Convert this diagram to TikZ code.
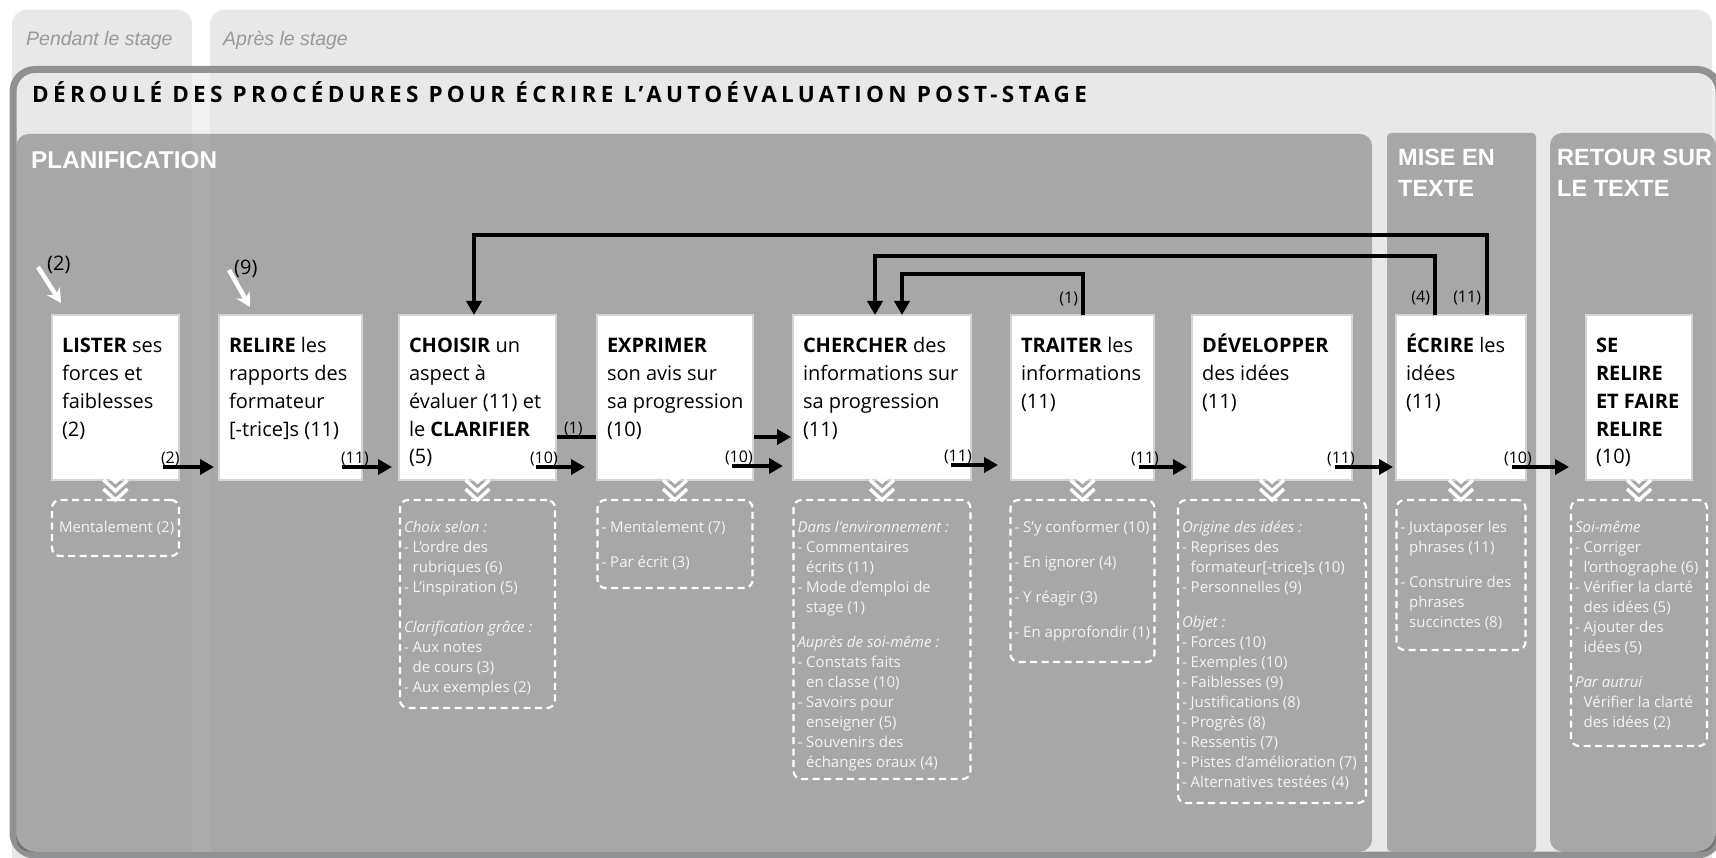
\documentclass[tikz,border=0pt]{standalone}
\usepackage{fontspec}
\setmainfont{Open Sans}
\newfontfamily\headfont{Liberation Sans}
\newfontfamily\titlefont[LetterSpace=19]{Open Sans}
\usepackage{tikz}
\usetikzlibrary{positioning, calc, arrows.meta}

\definecolor{bandgray}{HTML}{E8E8E8}
\definecolor{panelgray}{HTML}{464646}
\definecolor{framegray}{HTML}{909193}
\definecolor{boxline}{HTML}{D4D4D4}
\definecolor{stagegray}{HTML}{9A9A9A}
\definecolor{howtextcol}{HTML}{F4F4F4}

\pgfdeclarelayer{back}
\pgfdeclarelayer{links}
\pgfsetlayers{back,links,main}

% text of a step block (width, lines) and of a detail block (width, height, lines)
\newcommand{\steptext}[2]{\parbox[t][145pt][t]{#1}{\rule{0pt}{28pt}\begin{tabular}[t]{@{}l@{}}#2\end{tabular}}}
\newcommand{\howtext}[3]{\parbox[t][#2][t]{#1}{\rule{0pt}{32pt}\begin{tabular}[t]{@{}l@{}}#3\end{tabular}}}
\newcommand{\chevrons}[1]{%
  \foreach \k in {0,1,2}{%
    \draw[chev] ([shift={(-12,9-9*\k)}]#1.south) -- ++(12,-11) -- ++(12,11);}}

\begin{document}
\begin{tikzpicture}[x=1pt, y=1pt, node distance=40pt]
        % Define block styles
        \tikzstyle{stepbox} = [rectangle, draw=boxline, line width=1.5pt, fill=white, inner xsep=10pt, inner ysep=10pt, outer sep=0pt, font=\fontsize{20}{27.7}\selectfont]
        \tikzstyle{howbox} = [rectangle, draw=white, dash pattern=on 7pt off 4.5pt, line width=2.2pt, rounded corners=8pt, inner xsep=4pt, inner ysep=0pt, outer sep=0pt, text=howtextcol, font=\fontsize{15}{20}\selectfont]
        \tikzstyle{flow} = [line width=4pt, -{Triangle[length=14pt, width=15pt]}]
        \tikzstyle{inflow} = [white, line width=4.5pt, -{Stealth[length=14pt, width=15pt]}]
        \tikzstyle{numlabel} = [font=\fontsize{16}{16}\selectfont, inner sep=0pt]
        \tikzstyle{phase} = [anchor=north west, inner sep=0pt, align=left, text=white, font=\headfont\bfseries\fontsize{23.5}{31}\selectfont]
        \tikzstyle{chev} = [white, line width=3.5pt]

        \useasboundingbox (0,0) rectangle (1716,-858);

        % Background: stage columns, frame and phases
        \begin{pgfonlayer}{back}
        \fill[bandgray, rounded corners=14pt] (12,-10) rectangle (192,-880);
        \fill[bandgray, rounded corners=14pt] (210,-10) rectangle (1712,-880);
        \draw[framegray, line width=7pt, fill=bandgray, fill opacity=0.6, rounded corners=22pt] (13,-69.5) rectangle (1719,-855);
        \fill[panelgray, fill opacity=0.4, rounded corners=12pt] (16.5,-134) rectangle (1372,-851.5);
        \fill[panelgray, fill opacity=0.4, rounded corners=4pt] (1387,-133) rectangle (1536,-851.5);
        \fill[panelgray, fill opacity=0.4, rounded corners=12pt] (1550,-133) rectangle (1715.5,-851.5);
        \end{pgfonlayer}

        % Headings
        \node[anchor=base west, inner sep=0pt, text=stagegray, font=\headfont\itshape\fontsize{19.5}{20}\selectfont] (pendant) at (26,-46) {Pendant le stage};
        \node[anchor=base west, inner sep=0pt, text=stagegray, font=\headfont\itshape\fontsize{19.5}{20}\selectfont] (apres) at (223,-46) {Après le stage};
        \node[anchor=base west, inner sep=0pt, font=\titlefont\bfseries\fontsize{22.5}{22.5}\selectfont] (title) at (32,-103) {DÉROULÉ DES PROCÉDURES POUR ÉCRIRE L’AUTOÉVALUATION POST-STAGE};
        \node[phase, font=\headfont\bfseries\fontsize{24.3}{31}\selectfont] (planif) at (31,-151.5) {PLANIFICATION};
        \node[phase] (misetexte) at (1398,-149) {MISE EN\\TEXTE};
        \node[phase] (retour) at (1557,-149) {RETOUR SUR\\LE TEXTE};

        % Place main nodes
        \node[stepbox, anchor=north west] (lister) at (52,-315) {\steptext{107pt}{\textbf{LISTER} ses\\forces et\\faiblesses\\(2)}};
        \node[stepbox, right=40pt of lister] (relire) {\steptext{123pt}{\textbf{RELIRE} les\\rapports des\\formateur\\{[}-trice{]}s (11)}};
        \node[stepbox, right=37pt of relire] (choisir) {\steptext{137pt}{\textbf{CHOISIR} un\\aspect à\\évaluer (11) et\\le \textbf{CLARIFIER}\\(5)}};
        \node[stepbox, right=41pt of choisir] (exprimer) {\steptext{136pt}{\textbf{EXPRIMER}\\son avis sur\\sa progression\\(10)}};
        \node[stepbox, right=40pt of exprimer] (chercher) {\steptext{158pt}{\textbf{CHERCHER} des\\informations sur\\sa progression\\(11)}};
        \node[stepbox, right=40pt of chercher] (traiter) {\steptext{123pt}{\textbf{TRAITER} les\\informations\\(11)}};
        \node[stepbox, right=38pt of traiter] (developper) {\steptext{140pt}{\textbf{DÉVELOPPER}\\des idées\\(11)}};
        \node[stepbox, right=44pt of developper] (ecrire) {\steptext{110pt}{\textbf{ÉCRIRE} les\\idées\\(11)}};
        \node[stepbox, right=60pt of ecrire] (serelire) {\steptext{86pt}{\textbf{SE}\\\textbf{RELIRE}\\\textbf{ET FAIRE}\\\textbf{RELIRE}\\(10)}};

        % Place detail blocks below main nodes
        \node[howbox, below=20pt of lister] (dlister) {\howtext{119pt}{56pt}{\hspace*{3pt}Mentalement (2)}};
        \node[howbox, below=20pt of choisir] (dchoisir) {\howtext{147pt}{208pt}{\textit{Choix selon :}\\- L’ordre des\\\phantom{- }rubriques (6)\\- L’inspiration (5)\\[20pt]\textit{Clarification grâce :}\\- Aux notes\\\phantom{- }de cours (3)\\- Aux exemples (2)}};
        \node[howbox, below=20pt of exprimer] (dexprimer) {\howtext{147pt}{88pt}{- Mentalement (7)\\[15pt]- Par écrit (3)}};
        \node[howbox, below=20pt of chercher] (dchercher) {\howtext{169pt}{279pt}{\textit{Dans l’environnement :}\\- Commentaires\\\phantom{- }écrits (11)\\- Mode d’emploi de\\\phantom{- }stage (1)\\[15pt]\textit{Auprès de soi-même :}\\- Constats faits\\\phantom{- }en classe (10)\\- Savoirs pour\\\phantom{- }enseigner (5)\\- Souvenirs des\\\phantom{- }échanges oraux (4)}};
        \node[howbox, below=20pt of traiter] (dtraiter) {\howtext{136pt}{162pt}{- S’y conformer (10)\\[15pt]- En ignorer (4)\\[15pt]- Y réagir (3)\\[15pt]- En approfondir (1)}};
        \node[howbox, below=20pt of developper] (ddeveloper) {\howtext{180pt}{303pt}{\textit{Origine des idées :}\\- Reprises des\\\phantom{- }formateur[-trice]s (10)\\- Personnelles (9)\\[15pt]\textit{Objet :}\\- Forces (10)\\- Exemples (10)\\- Faiblesses (9)\\- Justifications (8)\\- Progrès (8)\\- Ressentis (7)\\- Pistes d’amélioration (7)\\- Alternatives testées (4)}};
        \node[howbox, below=20pt of ecrire] (decrire) {\howtext{121pt}{150pt}{- Juxtaposer les\\\phantom{- }phrases (11)\\[15pt]- Construire des\\\phantom{- }phrases\\\phantom{- }succinctes (8)}};
        \node[howbox, below=20pt of serelire] (dserelire) {\howtext{128pt}{246pt}{\textit{Soi-même}\\- Corriger\\\phantom{- }l’orthographe (6)\\- Vérifier la clarté\\\phantom{- }des idées (5)\\- Ajouter des\\\phantom{- }idées (5)\\[15pt]\textit{Par autrui}\\\phantom{- }Vérifier la clarté\\\phantom{- }des idées (2)}};

        % Chevrons from blocks to details
        \foreach \n in {lister, choisir, exprimer, chercher, traiter, developper, ecrire, serelire} {\chevrons{\n}}

        % Draw connections as arrows
        \draw[flow] ([shift={(-16,13)}]lister.south east) -- node[numlabel, at start, anchor=base west, xshift=-4pt, yshift=4pt] {(2)} ([shift={(-5,13)}]relire.south west);
        \draw[flow] ([shift={(-20,13)}]relire.south east) -- node[numlabel, at start, anchor=base west, xshift=-3pt, yshift=4pt] {(11)} ([shift={(-7,13)}]choisir.south west);
        \draw[flow] ([shift={(-20,13)}]choisir.south east) -- node[numlabel, at start, anchor=base west, xshift=-8pt, yshift=4pt] {(10)} ([shift={(-12,13)}]exprimer.south west);
        \draw[flow] ([shift={(-21,14)}]exprimer.south east) -- node[numlabel, at start, anchor=base west, xshift=-9pt, yshift=4pt] {(10)} ([shift={(-10,14)}]chercher.south west);
        \draw[flow] ([shift={(-20,15)}]chercher.south east) -- node[numlabel, at start, anchor=base west, xshift=-9pt, yshift=4pt] {(11)} ([shift={(-13,15)}]traiter.south west);
        \draw[flow] ([shift={(-15,13)}]traiter.south east) -- node[numlabel, at start, anchor=base west, xshift=-10pt, yshift=4pt] {(11)} ([shift={(-5,13)}]developper.south west);
        \draw[flow] ([shift={(-17,13)}]developper.south east) -- node[numlabel, at start, anchor=base west, xshift=-10pt, yshift=4pt] {(11)} ([shift={(-3,13)}]ecrire.south west);
        \draw[flow] ([shift={(-14,13)}]ecrire.south east) -- node[numlabel, at start, anchor=base west, xshift=-10pt, yshift=4pt] {(10)} ([shift={(-17,13)}]serelire.south west);

        % Connection passing behind EXPRIMER
        \begin{pgfonlayer}{links}
        \draw[flow] ([yshift=43pt]choisir.south east) -- node[numlabel, at start, anchor=base west, xshift=6pt, yshift=4pt] {(1)} ([shift={(-2,43)}]chercher.south west);
        \end{pgfonlayer}

        % Draw feedback loops
        \draw[flow] ([xshift=-39pt]ecrire.north east) -- node[numlabel, at start, anchor=south east, xshift=-4pt, yshift=8pt] {(11)} ++(0,80) -| ([xshift=-3.5pt]choisir.north);
        \draw[flow] ([xshift=39pt]ecrire.north west) -- node[numlabel, at start, anchor=south east, xshift=-3pt, yshift=8pt] {(4)} ++(0,59) -| ([xshift=82pt]chercher.north west);
        \draw[flow] ([xshift=72pt]traiter.north west) -- node[numlabel, at start, anchor=south east, xshift=-3pt, yshift=7pt] {(1)} ++(0,41) -| ([xshift=109pt]chercher.north west);

        % Entry points
        \node[inner sep=0pt, anchor=west, font=\fontsize{20}{20}\selectfont] (n2) at (47,-265) {(2)};
        \node[inner sep=0pt, anchor=west, font=\fontsize{20}{20}\selectfont] (n9) at (234,-269) {(9)};
        \draw[inflow] ([shift={(-9,-2)}]n2.west) -- ([shift={(9,12)}]lister.north west);
        \draw[inflow] ([shift={(-5,-1)}]n9.west) -- ([shift={(31,8)}]relire.north west);

    \end{tikzpicture}
\end{document}
